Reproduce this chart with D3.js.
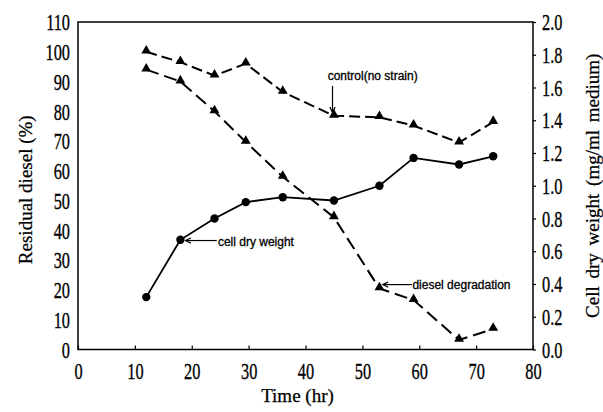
<!DOCTYPE html>
<html>
<head>
<meta charset="utf-8">
<script src="https://cdnjs.cloudflare.com/ajax/libs/d3/7.8.5/d3.min.js"></script>
<style>
  body { margin: 0; background: #fff; }
  svg { display: block; }
  .tick text { font-family: "Liberation Serif", "Times New Roman", serif; font-size: 24px; fill: #000; stroke: #000; stroke-width: 0.35; }
  .title { font-family: "Liberation Serif", "Times New Roman", serif; font-size: 19px; fill: #000; stroke: #000; stroke-width: 0.25; }
  .note { font-family: "Liberation Sans", Arial, sans-serif; font-size: 12px; fill: #000; stroke: #000; stroke-width: 0.3; }
</style>
</head>
<body>
<div id="chart"></div>
<script>
// time points (hr)
const time = [12, 18, 24, 29.5, 36, 45, 53, 59, 67, 73];
// residual diesel (%), left axis
const control = [100, 96.5, 92, 96, 86.5, 78.5, 78, 75.2, 69.5, 76.4];
const degradation = [94, 90, 80, 69.7, 58, 44.4, 20.5, 16.6, 3.2, 6.9];
// cell dry weight (mg/ml medium), right axis
const cellWeight = [0.32, 0.67, 0.80, 0.90, 0.93, 0.91, 1.00, 1.17, 1.13, 1.18];

const xTicks = [0, 10, 20, 30, 40, 50, 60, 70, 80];
const leftTicks = [0, 10, 20, 30, 40, 50, 60, 70, 80, 90, 100, 110];
const rightTicks = [0, 0.2, 0.4, 0.6, 0.8, 1.0, 1.2, 1.4, 1.6, 1.8, 2.0];

const W = 603, H = 412;
const m = { left: 78, right: 70, top: 22, bottom: 62.5 };
const squash = 0.68;

const svg = d3.select('#chart').append('svg').attr('width', W).attr('height', H);

const x = d3.scaleLinear().domain([0, 80]).range([m.left, W - m.right]);
const yL = d3.scaleLinear().domain([0, 110]).range([H - m.bottom, m.top]);
const yR = d3.scaleLinear().domain([0, 2]).range([H - m.bottom, m.top]);

// frame
svg.append('rect')
  .attr('x', x(0)).attr('y', yL(110))
  .attr('width', x(80) - x(0)).attr('height', yL(0) - yL(110))
  .attr('fill', 'none').attr('stroke', '#000').attr('stroke-width', 1.5);

// bottom axis, ticks inward
const gx = svg.append('g')
  .attr('transform', `translate(0,${yL(0)})`)
  .call(d3.axisBottom(x).tickValues(xTicks).tickFormat(d3.format('d'))
    .tickSizeInner(-4).tickSizeOuter(0).tickPadding(12));
gx.selectAll('text').style('transform', `scaleX(${squash})`);

// left axis, labels only
const gl = svg.append('g')
  .attr('transform', `translate(${x(0)},0)`)
  .call(d3.axisLeft(yL).tickValues(leftTicks).tickFormat(d3.format('d'))
    .tickSize(0).tickPadding(8));
gl.selectAll('text')
  .attr('x', -8 / squash)
  .style('transform', `scaleX(${squash})`);

// right axis, short outward ticks
const gr = svg.append('g')
  .attr('transform', `translate(${x(80)},0)`)
  .call(d3.axisRight(yR).tickValues(rightTicks).tickFormat(d3.format('.1f'))
    .tickSizeInner(3).tickSizeOuter(0).tickPadding(6));
gr.selectAll('text')
  .attr('x', 9 / squash)
  .style('transform', `scaleX(${squash})`);

[gx, gl, gr].forEach(g => {
  g.select('.domain').remove();
  g.selectAll('line').attr('stroke', '#000').attr('stroke-width', 1.2);
});

// axis titles
svg.append('text').attr('class', 'title')
  .attr('x', (x(0) + x(80)) / 2 - 8).attr('y', 402)
  .attr('text-anchor', 'middle').text('Time (hr)');

svg.append('text').attr('class', 'title')
  .attr('transform', `translate(32,${(yL(0) + yL(110)) / 2 + 4}) rotate(-90)`)
  .attr('text-anchor', 'middle').text('Residual diesel (%)');

svg.append('text').attr('class', 'title')
  .attr('transform', `translate(599,${(yL(0) + yL(110)) / 2}) rotate(-90)`)
  .attr('text-anchor', 'middle')
  .style('word-spacing', '3px')
  .text('Cell dry weight (mg/ml medium)');

// series
const lineL = d3.line().x((d, i) => x(time[i])).y(d => yL(d));
const lineR = d3.line().x((d, i) => x(time[i])).y(d => yR(d));
const tri = d3.symbol().type(d3.symbolTriangle).size(42);

function drawTriSeries(vals, dash) {
  svg.append('path').datum(vals)
    .attr('d', lineL).attr('fill', 'none')
    .attr('stroke', '#000').attr('stroke-width', 2)
    .attr('stroke-dasharray', dash);
  svg.append('g').selectAll('path').data(vals).join('path')
    .attr('d', tri)
    .attr('transform', (d, i) => `translate(${x(time[i])},${yL(d) - 1})`)
    .attr('fill', '#000');
}

drawTriSeries(control, '11,5');
drawTriSeries(degradation, '13,6');

svg.append('path').datum(cellWeight)
  .attr('d', lineR).attr('fill', 'none')
  .attr('stroke', '#000').attr('stroke-width', 1.8);
svg.append('g').selectAll('circle').data(cellWeight).join('circle')
  .attr('cx', (d, i) => x(time[i])).attr('cy', d => yR(d))
  .attr('r', 4.2).attr('fill', '#000');

// annotations (data coordinates on the left scale)
const notes = [
  { label: 'control(no strain)', tx: 43.9, ty: 91.9, from: [44.75, 88.5], to: [44.75, 79.6] },
  { label: 'cell dry weight', tx: 24.6, ty: 36.2, from: [24.4, 36.6], to: [18.9, 36.6] },
  { label: 'diesel degradation', tx: 58.8, ty: 21.6, from: [58.7, 21.8], to: [53.6, 21.8] }
];

const head = (x1, y1, x2, y2) => {
  const a = Math.atan2(y2 - y1, x2 - x1), L = 6, s = 0.45;
  return `M${x2 - L * Math.cos(a - s)},${y2 - L * Math.sin(a - s)}L${x2},${y2}L${x2 - L * Math.cos(a + s)},${y2 - L * Math.sin(a + s)}`;
};

notes.forEach(n => {
  const x1 = x(n.from[0]), y1 = yL(n.from[1]), x2 = x(n.to[0]), y2 = yL(n.to[1]);
  svg.append('line').attr('x1', x1).attr('y1', y1).attr('x2', x2).attr('y2', y2)
    .attr('stroke', '#000').attr('stroke-width', 1.2);
  svg.append('path').attr('d', head(x1, y1, x2, y2))
    .attr('fill', 'none').attr('stroke', '#000').attr('stroke-width', 1.2);
  svg.append('text').attr('class', 'note')
    .attr('x', x(n.tx)).attr('y', yL(n.ty)).attr('dy', '0.35em')
    .text(n.label);
});
</script>
</body>
</html>
